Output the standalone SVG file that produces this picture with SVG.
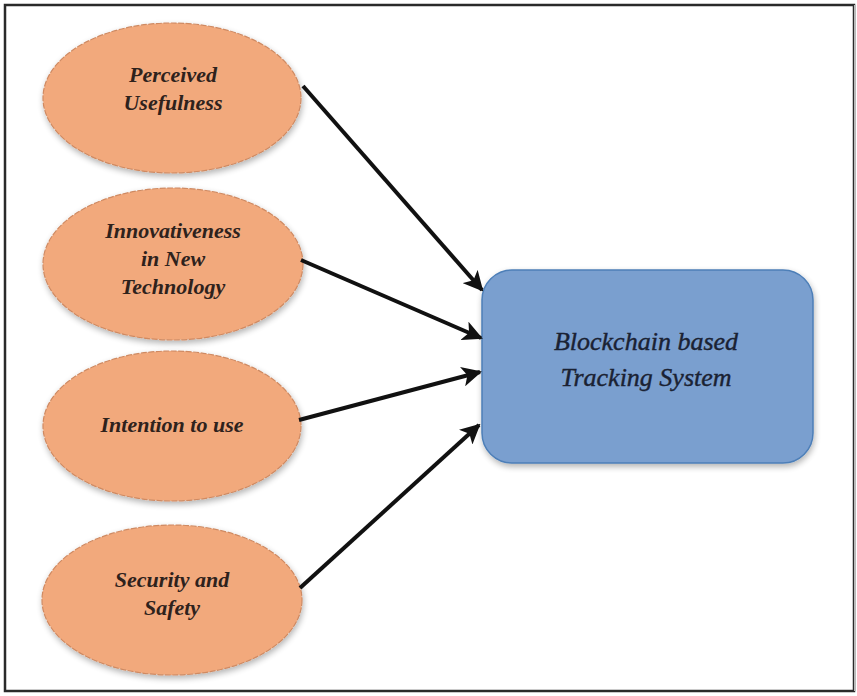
<svg xmlns="http://www.w3.org/2000/svg" width="857" height="696" viewBox="0 0 857 696">
  <style>
    .oval { fill: #f2a97c; stroke: #cf8a62; stroke-width: 1.2; stroke-dasharray: 6 1.5; }
    .otext { font-family: "Liberation Serif", "Times New Roman", serif; font-style: italic; font-weight: bold; font-size: 22px; fill: #2e221c; text-anchor: middle; }
    .btext { font-family: "Liberation Serif", "Times New Roman", serif; font-style: italic; font-size: 26px; fill: #1a2233; stroke: #1a2233; stroke-width: 0.4; text-anchor: middle; }
    .box { fill: #7a9fcf; stroke: #4d7fb8; stroke-width: 1.5; }
    .conn { stroke: #111; stroke-width: 4; fill: none; marker-end: url(#arrow); }
  </style>
  <defs>
    <marker id="arrow" viewBox="0 0 10 10" refX="9" refY="5" markerWidth="5" markerHeight="5" orient="auto" markerUnits="strokeWidth">
      <path d="M0,0 L10,5 L0,10 L2.5,5 Z" fill="#111"/>
    </marker>
    <filter id="shadow" x="-10%" y="-10%" width="125%" height="130%">
      <feGaussianBlur in="SourceAlpha" stdDeviation="3"/>
      <feOffset dx="1" dy="3"/>
      <feComponentTransfer><feFuncA type="linear" slope="0.3"/></feComponentTransfer>
      <feMerge><feMergeNode/><feMergeNode in="SourceGraphic"/></feMerge>
    </filter>
  </defs>

  <rect x="0" y="0" width="857" height="696" fill="#ffffff"/>
  <!-- outer frame -->
  <rect x="5" y="5" width="849" height="686" fill="none" stroke="#2a2a2a" stroke-width="2.5"/>
  <line x1="855" y1="5" x2="855" y2="691" stroke="#bbbbbb" stroke-width="2"/>

  <g id="perceived-usefulness">
    <ellipse class="oval" cx="172" cy="98" rx="129" ry="75" filter="url(#shadow)"/>
    <text class="otext" x="173" y="82">Perceived</text>
    <text class="otext" x="173" y="110">Usefulness</text>
  </g>

  <g id="innovativeness">
    <ellipse class="oval" cx="173" cy="264" rx="130" ry="76" filter="url(#shadow)"/>
    <text class="otext" x="173" y="238">Innovativeness</text>
    <text class="otext" x="173" y="266">in New</text>
    <text class="otext" x="173" y="294">Technology</text>
  </g>

  <g id="intention-to-use">
    <ellipse class="oval" cx="172" cy="426" rx="129" ry="75" filter="url(#shadow)"/>
    <text class="otext" x="172" y="432">Intention to use</text>
  </g>

  <g id="security-safety">
    <ellipse class="oval" cx="172" cy="600" rx="130" ry="75" filter="url(#shadow)"/>
    <text class="otext" x="172" y="587">Security and</text>
    <text class="otext" x="172" y="615">Safety</text>
  </g>

  <g id="tracking-system">
    <rect class="box" x="482" y="270" width="331" height="193" rx="30" ry="30" filter="url(#shadow)"/>
    <text class="btext" x="646" y="350">Blockchain based</text>
    <text class="btext" x="646" y="386">Tracking System</text>
  </g>

  <g id="connectors">
    <line class="conn" x1="303" y1="86" x2="482" y2="290"/>
    <line class="conn" x1="301" y1="260" x2="481" y2="338"/>
    <line class="conn" x1="299" y1="420" x2="480" y2="372"/>
    <line class="conn" x1="300" y1="588" x2="479" y2="425"/>
  </g>
</svg>
